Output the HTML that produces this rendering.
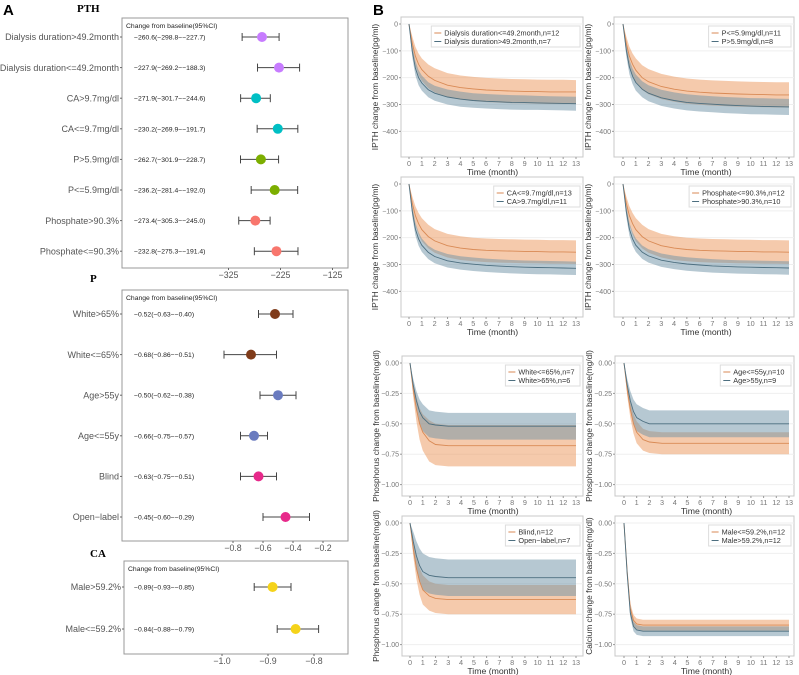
<!DOCTYPE html>
<html><head><meta charset="utf-8"><style>
html,body{margin:0;padding:0;background:#fff}
svg{display:block;font-family:"Liberation Sans",sans-serif}
</style></head><body>
<svg id="fig" width="799" height="675" viewBox="0 0 799 675" xmlns="http://www.w3.org/2000/svg">
<text x="3" y="15" font-size="15" font-weight="bold">A</text>
<text x="373" y="15" font-size="15" font-weight="bold">B</text>
<text x="77" y="12" font-size="11" font-weight="bold" font-family="Liberation Serif,serif">PTH</text>
<text x="90" y="282" font-size="11" font-weight="bold" font-family="Liberation Serif,serif">P</text>
<text x="90" y="557" font-size="11" font-weight="bold" font-family="Liberation Serif,serif">CA</text>
<g id="forest"></g>
<g id="lines"></g>
</svg>
<script>
// ---------- Forest data ----------
const pthLabels=["Dialysis duration>49.2month","Dialysis duration<=49.2month","CA>9.7mg/dl","CA<=9.7mg/dl","P>5.9mg/dl","P<=5.9mg/dl","Phosphate>90.3%","Phosphate<=90.3%"];
const pthEst=[-260.6,-227.9,-271.9,-230.2,-262.7,-236.2,-273.4,-232.8];
const pthLo=[-298.8,-269.2,-301.7,-269.9,-301.9,-281.4,-305.3,-275.3];
const pthHi=[-227.7,-188.3,-244.6,-191.7,-228.7,-192.0,-245.0,-191.4];
const pthTicks=[-325,-225,-125];
const pLabels=["White>65%","White<=65%","Age>55y","Age<=55y","Blind","Open−label"];
const pEst=[-0.52,-0.68,-0.50,-0.66,-0.63,-0.45];
const pLo=[-0.63,-0.86,-0.62,-0.75,-0.75,-0.60];
const pHi=[-0.40,-0.51,-0.38,-0.57,-0.51,-0.29];
const pTicks=[-0.8,-0.6,-0.4,-0.2];
const caLabels=["Male>59.2%","Male<=59.2%"];
const caEst=[-0.89,-0.84];
const caLo=[-0.93,-0.88];
const caHi=[-0.85,-0.79];
const caTicks=[-1.0,-0.9,-0.8];

// ---------- Line data ----------
const T=[0,0.25,0.5,0.75,1,1.5,2,3,4,5,6,7,8,9,10,11,12,13];
const xTicks=[0,1,2,3,4,5,6,7,8,9,10,11,12,13];
const pthYTicks=[0,-100,-200,-300,-400];
const phYTicks=[0,-0.25,-0.5,-0.75,-1.0];
const dia1Mean=[0,-70,-120,-150,-170,-195,-210,-228,-237,-242,-246,-248,-250,-251,-252,-253,-253,-253];
const dia1Hw=[0,25,35,40,42,44,45,45,45,45,45,45,45,45,45,45,45,44];
const dia2Mean=[0,-100,-165,-200,-220,-245,-258,-272,-280,-285,-288,-290,-292,-293,-294,-295,-296,-297];
const dia2Hw=[0,22,27,28,28,28,28,28,28,27,27,27,27,27,26,26,26,26];
const p1Mean=[0,-70,-120,-150,-172,-200,-215,-233,-243,-250,-254,-257,-259,-261,-262,-263,-264,-264];
const p1Hw=[0,25,35,40,44,46,47,47,47,47,47,47,47,47,47,47,47,47];
const p2Mean=[0,-95,-160,-195,-218,-243,-258,-275,-285,-292,-296,-299,-302,-304,-306,-307,-308,-309];
const p2Hw=[0,22,27,29,30,30,30,30,30,30,30,30,30,30,30,30,30,30];
const ca1Mean=[0,-70,-118,-148,-170,-196,-212,-230,-239,-244,-247,-249,-250,-251,-252,-253,-253,-254];
const ca1Hw=[0,25,35,40,43,44,44,44,44,44,44,44,44,44,44,44,44,44];
const ca2Mean=[0,-100,-168,-205,-228,-255,-270,-286,-294,-299,-303,-306,-308,-310,-311,-312,-313,-314];
const ca2Hw=[0,20,24,25,25,25,25,25,25,25,25,25,25,25,25,25,25,25];
const ph1Mean=[0,-70,-118,-148,-170,-196,-212,-230,-239,-244,-247,-249,-250,-251,-252,-253,-253,-254];
const ph1Hw=[0,25,35,40,43,44,44,44,44,44,44,44,44,44,44,44,44,44];
const ph2Mean=[0,-100,-168,-205,-228,-254,-268,-284,-292,-298,-302,-305,-307,-309,-310,-311,-312,-313];
const ph2Hw=[0,20,24,25,25,25,25,25,25,25,25,25,25,25,25,25,25,25];
const wh1Mean=[0,-0.22,-0.38,-0.50,-0.57,-0.64,-0.67,-0.68,-0.68,-0.68,-0.68,-0.68,-0.68,-0.68,-0.68,-0.68,-0.68,-0.68];
const wh1Hw=[0,0.06,0.10,0.13,0.15,0.17,0.17,0.17,0.17,0.17,0.17,0.17,0.17,0.17,0.17,0.17,0.17,0.17];
const wh2Mean=[0,-0.18,-0.31,-0.40,-0.45,-0.50,-0.51,-0.52,-0.52,-0.52,-0.52,-0.52,-0.52,-0.52,-0.52,-0.52,-0.52,-0.52];
const wh2Hw=[0,0.05,0.08,0.10,0.11,0.11,0.11,0.11,0.11,0.11,0.11,0.11,0.11,0.11,0.11,0.11,0.11,0.11];
const ag1Mean=[0,-0.22,-0.38,-0.50,-0.57,-0.63,-0.65,-0.66,-0.66,-0.66,-0.66,-0.66,-0.66,-0.66,-0.66,-0.66,-0.66,-0.66];
const ag1Hw=[0,0.05,0.07,0.08,0.09,0.09,0.09,0.09,0.09,0.09,0.09,0.09,0.09,0.09,0.09,0.09,0.09,0.09];
const ag2Mean=[0,-0.18,-0.31,-0.40,-0.45,-0.48,-0.50,-0.50,-0.50,-0.50,-0.50,-0.50,-0.50,-0.50,-0.50,-0.50,-0.50,-0.50];
const ag2Hw=[0,0.05,0.08,0.10,0.11,0.11,0.11,0.11,0.11,0.11,0.11,0.11,0.11,0.11,0.11,0.11,0.11,0.11];
const bl1Mean=[0,-0.21,-0.37,-0.48,-0.55,-0.60,-0.62,-0.63,-0.63,-0.63,-0.63,-0.63,-0.63,-0.63,-0.63,-0.63,-0.63,-0.63];
const bl1Hw=[0,0.06,0.09,0.11,0.12,0.12,0.12,0.12,0.12,0.12,0.12,0.12,0.12,0.12,0.12,0.12,0.12,0.12];
const bl2Mean=[0,-0.15,-0.27,-0.35,-0.40,-0.43,-0.44,-0.45,-0.45,-0.45,-0.45,-0.45,-0.45,-0.45,-0.45,-0.45,-0.45,-0.45];
const bl2Hw=[0,0.08,0.12,0.14,0.15,0.15,0.15,0.15,0.15,0.15,0.15,0.15,0.15,0.15,0.15,0.15,0.15,0.15];
const ma1Mean=[0,-0.40,-0.70,-0.80,-0.83,-0.84,-0.84,-0.84,-0.84,-0.84,-0.84,-0.84,-0.84,-0.84,-0.84,-0.84,-0.84,-0.84];
const ma1Hw=[0,0.02,0.04,0.045,0.045,0.045,0.045,0.045,0.045,0.045,0.045,0.045,0.045,0.045,0.045,0.045,0.045,0.045];
const ma2Mean=[0,-0.42,-0.74,-0.85,-0.88,-0.89,-0.89,-0.89,-0.89,-0.89,-0.89,-0.89,-0.89,-0.89,-0.89,-0.89,-0.89,-0.89];
const ma2Hw=[0,0.02,0.035,0.04,0.04,0.04,0.04,0.04,0.04,0.04,0.04,0.04,0.04,0.04,0.04,0.04,0.04,0.04];

const NS="http://www.w3.org/2000/svg";
function mk(tag,attrs,parent,txt){const e=document.createElementNS(NS,tag);for(const k in attrs)e.setAttribute(k,attrs[k]);if(txt!==undefined)e.textContent=txt;parent.appendChild(e);return e;}
const fmt=(v,d)=>(v<0?"−":"")+Math.abs(v).toFixed(d);

function forest(g,box,labels,est,lo,hi,ticks,colors,x0,v0,scale,y0,dy,dec,tdec){
  const gg=mk('g',{},g);
  
  
  const b=mk('rect',{x:box[0],y:box[1],width:box[2]-box[0],height:box[3]-box[1],fill:'#fff',stroke:'#999','stroke-width':1},gg);
  
  
  const h=mk('text',{x:box[0]+4,y:box[1]+10,'font-size':6.8,fill:'#222'},gg,'Change from baseline(95%CI)');
  
  
  const X=v=>x0+(v-v0)*scale;
  labels.forEach((lab,i)=>{
    const y=y0+i*dy;
    const l=mk('text',{x:box[0]-3,y:y+3.2,'font-size':9,fill:'#555','text-anchor':'end'},gg,lab);
    
    
    mk('line',{x1:box[0]-2,x2:box[0],y1:y,y2:y,stroke:'#666'},gg);
    const t=mk('text',{x:134,y:y+2.5,'font-size':6.8,fill:'#222'},gg,fmt(est[i],dec)+"("+fmt(lo[i],dec)+"−"+fmt(hi[i],dec)+")");
    
    
    const eb=mk('g',{stroke:'#444','stroke-width':1},gg);
    
    
    mk('line',{x1:X(lo[i]),x2:X(hi[i]),y1:y,y2:y},eb);
    mk('line',{x1:X(lo[i]),x2:X(lo[i]),y1:y-4,y2:y+4},eb);
    mk('line',{x1:X(hi[i]),x2:X(hi[i]),y1:y-4,y2:y+4},eb);
    const c=mk('circle',{cx:X(est[i]),cy:y,r:5,fill:colors[i]},gg);
    
    
  });
  ticks.forEach(tv=>{
    mk('line',{x1:X(tv),x2:X(tv),y1:box[3],y2:box[3]+2,stroke:'#666'},gg);
    const t=mk('text',{x:X(tv),y:box[3]+10,'font-size':8.8,fill:'#555','text-anchor':'middle'},gg,fmt(tv,tdec));
    
    
  });
}
const F=document.getElementById('forest');
forest(F,[122,18,348,268],pthLabels,pthEst,pthLo,pthHi,pthTicks,
 ['#c77cff','#c77cff','#00bfc4','#00bfc4','#7cae00','#7cae00','#f8766d','#f8766d'],228.5,-325,0.52,37,30.6,1,0);
forest(F,[122,290,348,541],pLabels,pEst,pLo,pHi,pTicks,
 ['#7f3b1a','#7f3b1a','#6a7bbf','#6a7bbf','#e7298a','#e7298a'],233,-0.8,150,314,40.6,2,1);
forest(F,[124,561,348,654],caLabels,caEst,caLo,caHi,caTicks,['#f5d31a','#f5d31a'],268,-0.9,460,587,42,2,1);

const L=document.getElementById('lines');
function panel(box,x0,x13,yTicks,yMin,yFmt,ytitle,s1,s2,legs){
  const [bx1,by1,bx2,by2]=box;
  const g=mk('g',{},L);
  
  
  const ytop=by1+7, ybot=by2;
  const X=t=>x0+t*(x13-x0)/13;
  const Y=v=>ytop+(v/yMin)*(ybot-ytop);
  mk('rect',{x:bx1,y:by1,width:bx2-bx1,height:by2-by1,fill:'#fff',stroke:'#c8c8c8'},g);
  yTicks.forEach(v=>{
    mk('line',{x1:bx1,x2:bx2,y1:Y(v),y2:Y(v),stroke:'#efefef'},g);
    mk('line',{x1:bx1-2,x2:bx1,y1:Y(v),y2:Y(v),stroke:'#999'},g);
    const t=mk('text',{x:bx1-3,y:Y(v)+2.5,'font-size':7,fill:'#777','text-anchor':'end'},g,yFmt(v));
    
    
  });
  xTicks.forEach(v=>{
    mk('line',{x1:X(v),x2:X(v),y1:by2,y2:by2+2,stroke:'#999'},g);
    const t=mk('text',{x:X(v),y:by2+9,'font-size':7.3,fill:'#777','text-anchor':'middle'},g,String(v));
    
    
  });
  const xt=mk('text',{x:(x0+x13)/2,y:by2+18,'font-size':8.7,fill:'#333','text-anchor':'middle'},g,'Time (month)');
  
  
  const cy=(by1+by2)/2, tx=bx1-23;
  const yt=mk('text',{x:tx,y:cy,'font-size':8.3,fill:'#333','text-anchor':'middle',transform:`rotate(-90 ${tx} ${cy})`},g,ytitle);
  
  
  const series=[[s1,'rgba(236,150,90,0.5)','#d98a55'],[s2,'rgba(110,145,165,0.5)','#4d6f80']];
  series.forEach(([s,fill,col])=>{
    const [m,hw]=s;
    let d='';
    T.forEach((t,i)=>{d+=(i?'L':'M')+X(t).toFixed(1)+','+Y(m[i]+hw[i]).toFixed(1);});
    for(let i=T.length-1;i>=0;i--)d+='L'+X(T[i]).toFixed(1)+','+Y(m[i]-hw[i]).toFixed(1);
    const band=mk('path',{d:d+'Z',fill:fill,stroke:'none'},g);
    
    
  });
  series.forEach(([s,fill,col])=>{
    const [m]=s;
    const pts=T.map((t,i)=>X(t).toFixed(1)+','+Y(m[i]).toFixed(1)).join(' ');
    const ln=mk('polyline',{points:pts,fill:'none',stroke:col,'stroke-width':0.9},g);
    
    
  });
  const lw=Math.max(...legs.map(s=>s.length))*3.9+20;
  const lx=bx2-lw-3, ly=by1+9;
  const lg=mk('g',{},g);
  
  
  mk('rect',{x:lx,y:ly,width:lw,height:21,fill:'#fff',stroke:'#ddd'},lg);
  legs.forEach((s,i)=>{
    const yy=ly+7+i*8.5;
    mk('line',{x1:lx+3,x2:lx+10,y1:yy,y2:yy,stroke:i?'#4d6f80':'#d98a55'},lg);
    const t=mk('text',{x:lx+13,y:yy+2.6,'font-size':7.3,fill:'#333'},lg,s);
    
    
  });
}
const fP=v=>v===0?'0':'−'+Math.abs(v);
const fH=v=>(v<0?'−':'')+Math.abs(v).toFixed(2);
const C1=[401,583,409,576], C2=[614,794,623,789];
const IP='IPTH change from baseline(pg/ml)', PH='Phosphorus change from baseline(mg/dl)', CAL='Calcium change from baseline(mg/dl)';
panel([C1[0],17,C1[1],157],C1[2],C1[3],pthYTicks,-400*140/113,fP,IP,[dia1Mean,dia1Hw],[dia2Mean,dia2Hw],['Dialysis duration<=49.2month,n=12','Dialysis duration>49.2month,n=7']);
panel([C2[0],17,C2[1],157],C2[2],C2[3],pthYTicks,-400*140/113,fP,IP,[p1Mean,p1Hw],[p2Mean,p2Hw],['P<=5.9mg/dl,n=11','P>5.9mg/dl,n=8']);
panel([C1[0],177,C1[1],317],C1[2],C1[3],pthYTicks,-400*140/113,fP,IP,[ca1Mean,ca1Hw],[ca2Mean,ca2Hw],['CA<=9.7mg/dl,n=13','CA>9.7mg/dl,n=11']);
panel([C2[0],177,C2[1],317],C2[2],C2[3],pthYTicks,-400*140/113,fP,IP,[ph1Mean,ph1Hw],[ph2Mean,ph2Hw],['Phosphate<=90.3%,n=12','Phosphate>90.3%,n=10']);
panel([C1[0]+1,356,C1[1],496],C1[2]+1,C1[3],phYTicks,-140/128,fH,PH,[wh1Mean,wh1Hw],[wh2Mean,wh2Hw],['White<=65%,n=7','White>65%,n=6']);
panel([C2[0]+1,356,C2[1],496],C2[2]+1,C2[3],phYTicks,-140/128,fH,PH,[ag1Mean,ag1Hw],[ag2Mean,ag2Hw],['Age<=55y,n=10','Age>55y,n=9']);
panel([C1[0]+1,516,C1[1],656],C1[2]+1,C1[3],phYTicks,-140/128,fH,PH,[bl1Mean,bl1Hw],[bl2Mean,bl2Hw],['Blind,n=12','Open−label,n=7']);
panel([C2[0]+1,516,C2[1],656],C2[2]+1,C2[3],phYTicks,-140/128,fH,CAL,[ma1Mean,ma1Hw],[ma2Mean,ma2Hw],['Male<=59.2%,n=12','Male>59.2%,n=12']);
</script>
</body></html>
